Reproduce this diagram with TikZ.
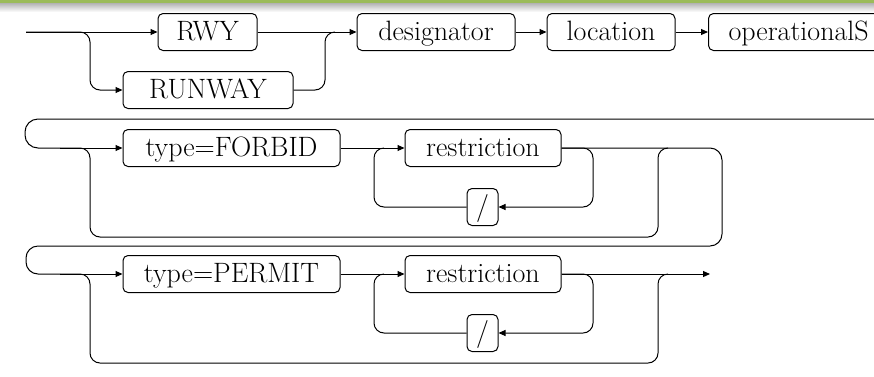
\documentclass[tikz,border=0pt]{standalone}
\usepackage{xcolor}
\usepackage{tikz}
\usetikzlibrary{arrows.meta}

\definecolor{barGreen}{RGB}{155,187,89}

\tikzset{
    term/.style={draw, rounded corners=5, minimum height=37, inner xsep=4, inner ysep=0, text height=20, text depth=3},
    wire/.style={rounded corners=10},
    flow/.style={wire, -{Triangle[length=7pt,width=6pt]}},
}

\begin{document}
\begin{tikzpicture}[x=1pt, y=-1pt, line width=1pt, font=\fontsize{28}{30}\selectfont]
    \useasboundingbox (0,0) rectangle (874,376);
    \clip (0,0) rectangle (874,376);
    % top bar
    \fill[barGreen] (0,0) rectangle (874,3);
    \shade[top color=black!30, bottom color=white] (0,3) rectangle (874,12);

    % first row
    \coordinate (start) at (26,32);
    \node[term, minimum width=99] (rwy) at (207.5,32) {RWY};
    \node[term, minimum width=170] (runway) at (208,90) {RUNWAY};
    \node[term, minimum width=158] (desig) at (436,32) {designator};
    \node[term, minimum width=128] (loc) at (611,32) {location};
    \node[term, anchor=west, inner xsep=20] (opstat) at (708,32) {operationalS};
    \draw[flow] (start) -- (rwy);
    \draw[flow] (start) -| (90,90) -- (runway.west);
    \draw[flow] (rwy) -- (desig);
    \draw[wire] (runway.east) -| (325,32) -- (335,32);
    \draw[flow] (desig) -- (loc);
    \draw[flow] (loc) -- (opstat);

    % second and third row
    \coordinate (back) at (880,119);
    \foreach \y/\kind/\row in {148/FORBID/a, 274/PERMIT/b}{
        \coordinate (in-\row) at (60,\y);
        \node[term, minimum width=217] (type-\row) at (231.5,\y) {type=\kind};
        \node[term, minimum width=156] (restr-\row) at (483,\y) {restriction};
        \node[term, minimum width=31] (slash-\row) at (482.5,\y+59) {/};
        \draw[flow] (in-\row) -- (type-\row);
        \draw[flow] (type-\row) -- (restr-\row);
        \draw[flow] (restr-\row.east) -| (593,\y+59) -- (slash-\row.east);
        \draw[wire] (slash-\row.west) -| (374,\y) -- (384,\y);
        \draw[wire] (in-\row) -| (90,\y+89) -| (658,\y) -- (668,\y);
    }
    \draw[wire, rounded corners=13] (back) -- (25,119) -- (25,148) -- (in-a);
    \draw[wire, rounded corners=12] (restr-a.east) -- (722,148) -- (722,246) -- (26,246) -- (26,274) -- (in-b);
    \draw[flow] (restr-b.east) -- (710,274) coordinate (finish);
\end{tikzpicture}
\end{document}
